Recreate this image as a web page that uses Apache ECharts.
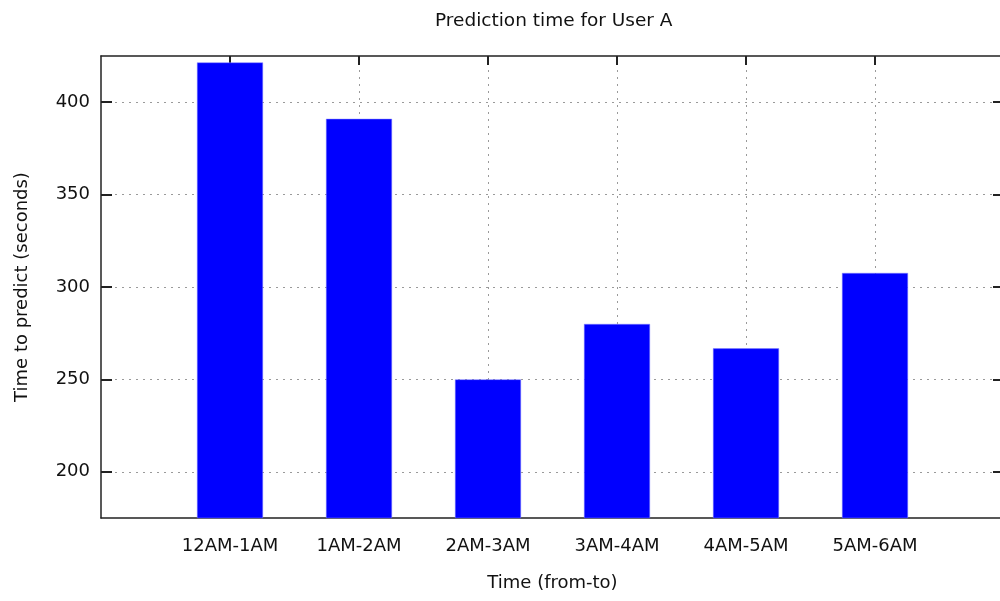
<!DOCTYPE html>
<html>
<head>
<meta charset="utf-8">
<script src="https://cdn.jsdelivr.net/npm/echarts@6/dist/echarts.min.js"></script>
<style>html,body{margin:0;padding:0;background:#fff;overflow:hidden;}#c{width:1000px;height:601px;}</style>
</head>
<body>
<div id="c"></div>
<script>
const categories = ['12AM-1AM', '1AM-2AM', '2AM-3AM', '3AM-4AM', '4AM-5AM', '5AM-6AM'];
const times = [421.5, 391, 250, 280, 266.8, 307.6];
const yTicks = [200, 250, 300, 350, 400];

const font = '"DejaVu Sans", sans-serif';
const chart = echarts.init(document.getElementById('c'), null, {renderer: 'canvas'});
const xIdx = categories.map((c, i) => i);
const axisLineStyle = {color: '#222', width: 1.5};
const gridLine = {show: true, lineStyle: {color: '#9a9a9a', type: [2, 5], width: 1}};

chart.setOption({
  animation: false,
  title: {
    text: 'Prediction time for User A',
    left: 430, top: 7,
    textStyle: {fontFamily: font, fontSize: 18.5, fontWeight: 'normal', color: '#111'}
  },
  grid: {left: 101, width: 903, top: 56, height: 462, containLabel: false, outerBoundsMode: 'none'},
  xAxis: [{
    type: 'value', min: -1, max: 6, position: 'bottom',
    name: 'Time (from-to)', nameLocation: 'middle', nameGap: 56,
    nameTextStyle: {fontFamily: font, fontSize: 18, color: '#111'},
    axisLine: {show: true, onZero: false, lineStyle: axisLineStyle},
    axisTick: {show: false},
    axisLabel: {
      customValues: xIdx, margin: 19,
      fontFamily: font, fontSize: 18, color: '#111',
      formatter: v => categories[Math.round(v)] || ''
    },
    splitLine: {show: false}
  }, {
    type: 'value', min: -1, max: 6, position: 'top',
    axisLine: {show: true, onZero: false, lineStyle: axisLineStyle},
    axisTick: {show: true, inside: true, length: 9, customValues: xIdx, lineStyle: {color: '#222', width: 2}},
    axisLabel: {show: false},
    splitLine: gridLine
  }],
  yAxis: [{
    type: 'value', min: 175, max: 425, position: 'left',
    name: 'Time to predict (seconds)', nameLocation: 'middle', nameGap: 70,
    nameTextStyle: {fontFamily: font, fontSize: 18, color: '#111'},
    axisLine: {show: true, onZero: false, lineStyle: axisLineStyle},
    axisTick: {show: true, inside: true, length: 11, customValues: yTicks, lineStyle: {color: '#222', width: 2}},
    axisLabel: {customValues: yTicks, margin: 11, fontFamily: font, fontSize: 18, color: '#111'},
    splitLine: gridLine
  }, {
    type: 'value', min: 175, max: 425, position: 'right',
    axisLine: {show: true, onZero: false, lineStyle: axisLineStyle},
    axisTick: {show: true, inside: true, length: 11, customValues: yTicks, lineStyle: {color: '#222', width: 2}},
    axisLabel: {show: false},
    splitLine: {show: false}
  }],
  series: [{
    type: 'bar',
    xAxisIndex: 0, yAxisIndex: 0,
    data: times.map((v, i) => [i, v]),
    barWidth: 66,
    itemStyle: {color: '#0000ff', borderColor: '#8080ff', borderWidth: 0.5},
    z: 3
  }]
});
</script>
</body>
</html>
